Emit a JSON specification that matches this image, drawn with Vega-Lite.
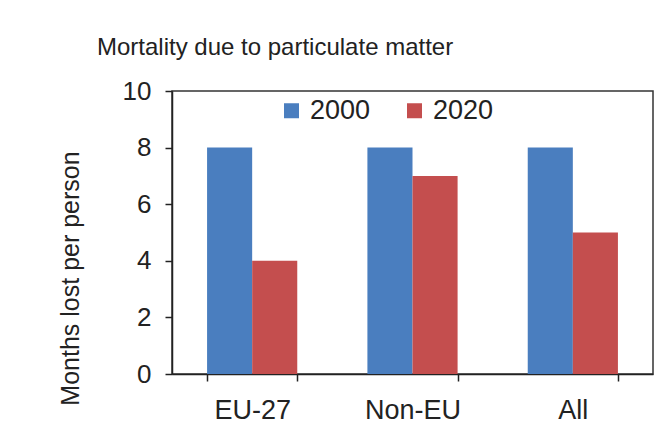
{
  "$schema": "https://vega.github.io/schema/vega-lite/v6.json",
  "width": 481,
  "height": 283,
  "autosize": {"type": "none"},
  "padding": {"left": 172, "top": 91, "right": 3, "bottom": 56},
  "background": "#ffffff",
  "config": {
    "font": "Liberation Sans",
    "view": {"stroke": "#333333", "strokeWidth": 1.5},
    "axis": {"grid": false, "domainColor": "#222222", "domainWidth": 1.5, "tickColor": "#222222", "tickWidth": 1.5, "labelColor": "#222222", "titleColor": "#222222", "labelFont": "Liberation Sans", "titleFont": "Liberation Sans"}
  },
  "title": {
    "text": "Mortality due to particulate matter",
    "font": "Liberation Sans",
    "fontSize": 24,
    "fontWeight": "normal",
    "color": "#222222",
    "anchor": "start",
    "frame": "group",
    "dx": -75,
    "baseline": "alphabetic",
    "offset": -1
  },
  "data": {
    "values": [
      {"region": "EU-27", "year": "2000", "months": 8},
      {"region": "EU-27", "year": "2020", "months": 4},
      {"region": "Non-EU", "year": "2000", "months": 8},
      {"region": "Non-EU", "year": "2020", "months": 7},
      {"region": "All", "year": "2000", "months": 8},
      {"region": "All", "year": "2020", "months": 5}
    ]
  },
  "mark": {"type": "bar"},
  "encoding": {
    "x": {
      "field": "region",
      "type": "nominal",
      "sort": ["EU-27", "Non-EU", "All"],
      "scale": {"paddingInner": 0.4375, "paddingOuter": 0.21875},
      "axis": {"title": null, "labelAngle": 0, "labelFontSize": 27, "tickBand": "extent", "tickSize": 7, "labelPadding": 16}
    },
    "xOffset": {"field": "year", "type": "nominal", "scale": {"paddingInner": 0, "paddingOuter": 0}},
    "y": {
      "field": "months",
      "type": "quantitative",
      "scale": {"domain": [0, 10], "nice": false},
      "axis": {"title": "Months lost per person", "values": [0, 2, 4, 6, 8, 10], "labelFontSize": 26, "titleFontSize": 25, "titleFontWeight": "normal", "tickSize": 7, "labelPadding": 14, "titleX": -102, "titleY": 187, "titleAngle": -90, "titleBaseline": "middle", "titleAlign": "center"}
    },
    "color": {
      "field": "year",
      "type": "nominal",
      "scale": {"domain": ["2000", "2020"], "range": ["#4a7ebf", "#c44e4e"]},
      "legend": {"title": null, "orient": "none", "direction": "horizontal", "legendX": 106, "legendY": 6, "symbolType": "square", "symbolSize": 225, "symbolStrokeWidth": 0, "labelFontSize": 27, "labelColor": "#222222", "labelFont": "Liberation Sans", "labelOffset": 5, "columnPadding": 30}
    }
  }
}
